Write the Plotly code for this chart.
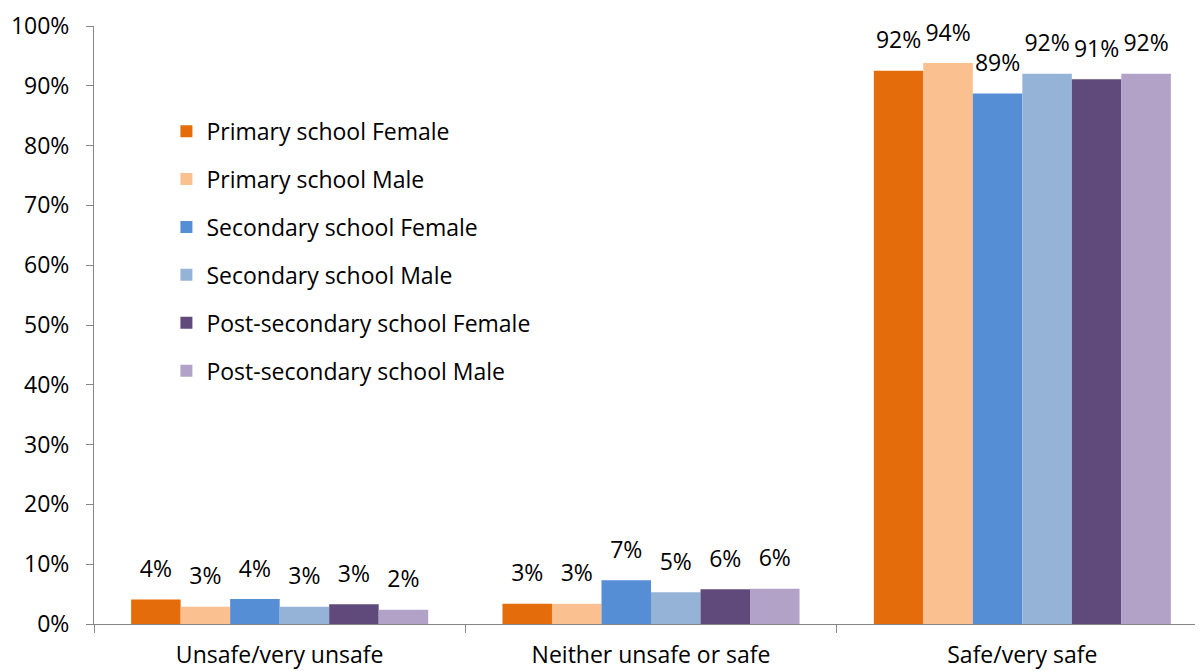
import plotly.graph_objects as go

categories = ["Unsafe/very unsafe", "Neither unsafe or safe", "Safe/very safe"]

series_names = [
    "Primary school Female",
    "Primary school Male",
    "Secondary school Female",
    "Secondary school Male",
    "Post-secondary school Female",
    "Post-secondary school Male",
]

primary_female = [4.1, 3.4, 92.5]
primary_male = [2.9, 3.4, 93.8]
secondary_female = [4.2, 7.3, 88.7]
secondary_male = [2.9, 5.3, 92.0]
post_female = [3.3, 5.8, 91.1]
post_male = [2.4, 5.9, 92.0]

values = [primary_female, primary_male, secondary_female,
          secondary_male, post_female, post_male]

colors = ["#E46C0A", "#FAC090", "#558ED5", "#95B3D7", "#604A7B", "#B3A2C7"]

FONT = "Open Sans"
SIZE = 23

fig = go.Figure()
for i, (name, vals) in enumerate(zip(series_names, values)):
    fig.add_trace(go.Bar(
        x=categories, y=vals, name=name,
        marker=dict(color=colors[i], line=dict(width=0)),
        legendgroup=f"g{i}", offsetgroup=str(i),
    ))
# data labels as text on invisible points, grouped the same way as the bars,
# so they sit a bit higher above the bars (like the excel labels)
for i, vals in enumerate(values):
    fig.add_trace(go.Scatter(
        x=categories, y=vals, mode="markers+text",
        marker=dict(size=25, opacity=0),
        text=[f"{round(v):.0f}%" for v in vals],
        textposition="top center", cliponaxis=False,
        textfont=dict(family=FONT, size=SIZE, color="#000000"),
        showlegend=False, hoverinfo="skip", offsetgroup=str(i),
    ))

# page body has an 8px margin, so the margins below are shifted by 8px
fig.update_layout(
    width=1203, height=671,
    margin=dict(l=86, r=3, t=18, b=55, autoexpand=False),
    paper_bgcolor="white", plot_bgcolor="white",
    barmode="group", bargap=0.2, bargroupgap=0,
    scattermode="group", scattergap=0.2,
    font=dict(family=FONT, size=SIZE, color="#000000"),
    showlegend=True,
    legend=dict(x=0.065, y=0.860, xanchor="left", yanchor="top",
                bgcolor="rgba(0,0,0,0)", tracegroupgap=15,
                font=dict(family=FONT, size=SIZE)),
)
fig.update_xaxes(
    showline=True, linecolor="#868686", linewidth=1,
    ticks="outside", tickson="boundaries", ticklen=8, tickcolor="#868686",
    ticklabelstandoff=10,
    showgrid=False, tickfont=dict(family=FONT, size=SIZE),
)
fig.update_yaxes(
    range=[0, 100], dtick=10, ticksuffix="%",
    showline=True, linecolor="#868686", linewidth=1,
    ticks="outside", ticklen=7, tickcolor="#868686",
    ticklabelstandoff=12, ticklabeloverflow="allow",
    showgrid=False, zeroline=False, tickfont=dict(family=FONT, size=SIZE),
)

fig.write_html("out.html")
